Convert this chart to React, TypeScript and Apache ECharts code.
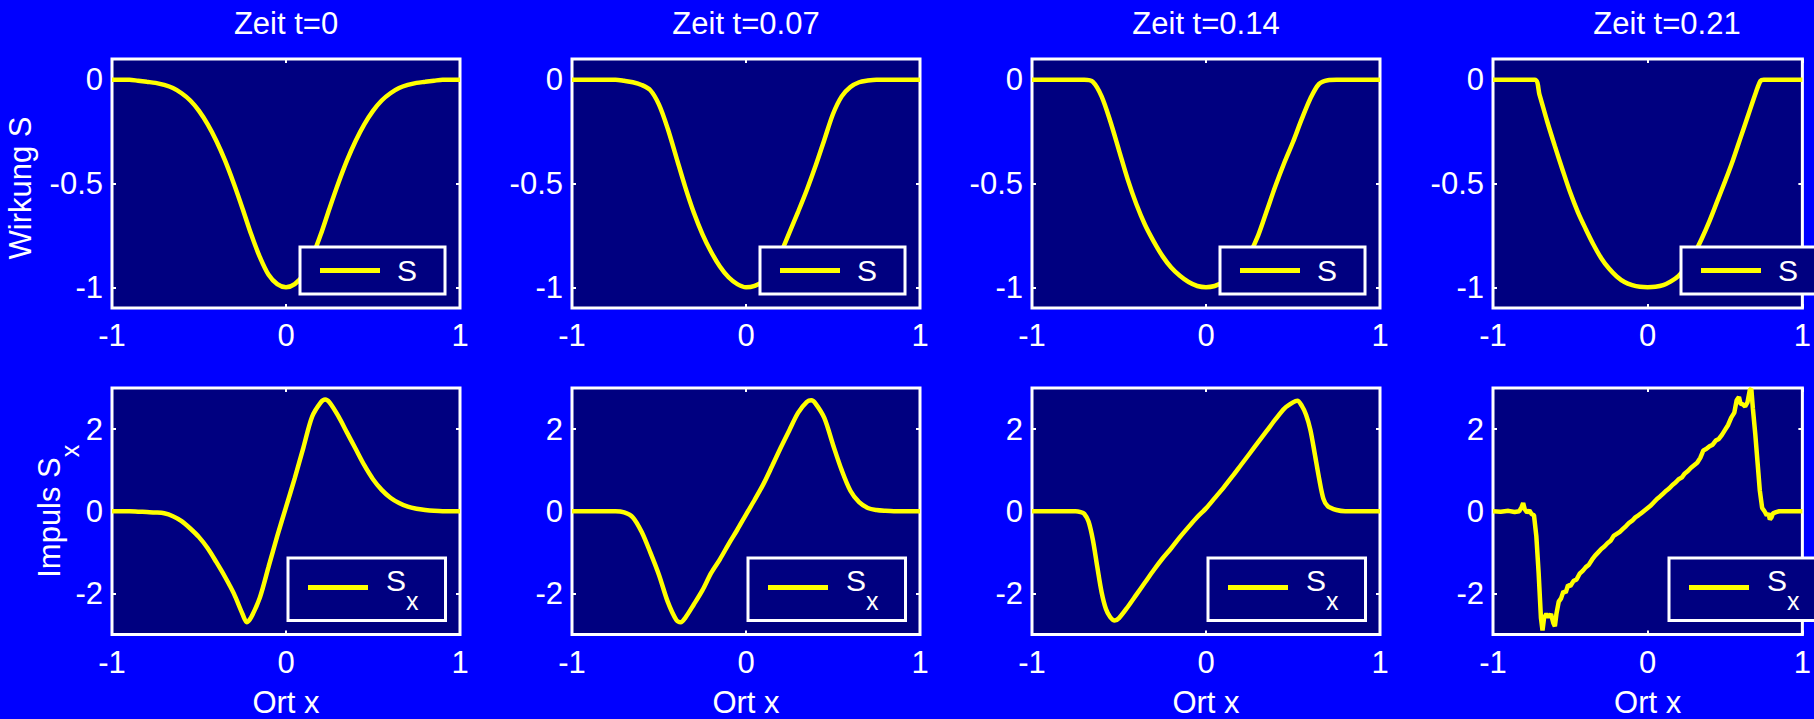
import React, { useEffect, useRef } from 'react';
import * as echarts from 'echarts';

// ---------- data ----------
const titles = ['Zeit t=0', 'Zeit t=0.07', 'Zeit t=0.14', 'Zeit t=0.21'];
const xTicks = [-1, 0, 1];
const sTicks = [-1, -0.5, 0];
const sxTicks = [-2, 0, 2];

// Wirkung S, t = 0
const sT0: number[][] = [
  [-1, 0], [-0.9, 0], [-0.85, -0.005], [-0.8, -0.01], [-0.75, -0.015], [-0.7, -0.025], [-0.65, -0.04],
  [-0.6, -0.065], [-0.55, -0.1], [-0.5, -0.15], [-0.45, -0.215], [-0.4, -0.295], [-0.35, -0.39],
  [-0.3, -0.5], [-0.25, -0.62], [-0.2, -0.745], [-0.15, -0.855], [-0.1, -0.94], [-0.05, -0.985],
  [0, -1], [0.05, -0.985], [0.1, -0.94], [0.15, -0.855], [0.2, -0.745], [0.25, -0.62], [0.3, -0.5],
  [0.35, -0.39], [0.4, -0.295], [0.45, -0.215], [0.5, -0.15], [0.55, -0.1], [0.6, -0.065],
  [0.65, -0.04], [0.7, -0.025], [0.75, -0.015], [0.8, -0.01], [0.85, -0.005], [0.9, 0], [1, 0],
];
// Wirkung S, t = 0.07
const sT1: number[][] = [
  [-1, 0], [-0.75, 0], [-0.7, -0.005], [-0.65, -0.012], [-0.6, -0.025], [-0.55, -0.05], [-0.5, -0.12],
  [-0.45, -0.235], [-0.4, -0.375], [-0.35, -0.515], [-0.3, -0.64], [-0.25, -0.745], [-0.2, -0.83],
  [-0.15, -0.9], [-0.1, -0.952], [-0.05, -0.985], [0, -1], [0.05, -0.993], [0.1, -0.97], [0.15, -0.92],
  [0.2, -0.835], [0.25, -0.735], [0.3, -0.635], [0.35, -0.53], [0.4, -0.415], [0.45, -0.29],
  [0.5, -0.165], [0.55, -0.08], [0.6, -0.035], [0.65, -0.012], [0.7, -0.004], [0.75, 0], [1, 0],
];
// Wirkung S, t = 0.14
const sT2: number[][] = [
  [-1, 0], [-0.7, 0], [-0.65, -0.01], [-0.6, -0.08], [-0.55, -0.2], [-0.5, -0.34], [-0.45, -0.48],
  [-0.4, -0.6], [-0.35, -0.7], [-0.3, -0.78], [-0.25, -0.85], [-0.2, -0.905], [-0.15, -0.945],
  [-0.1, -0.975], [-0.05, -0.994], [0, -1], [0.05, -0.994], [0.1, -0.975], [0.15, -0.945], [0.2, -0.9],
  [0.25, -0.84], [0.3, -0.75], [0.35, -0.63], [0.4, -0.51], [0.45, -0.4], [0.5, -0.3], [0.55, -0.19],
  [0.6, -0.09], [0.65, -0.02], [0.7, -0.002], [0.75, 0], [1, 0],
];
// Wirkung S, t = 0.21
const sT3: number[][] = [
  [-1, 0], [-0.73, 0], [-0.7, -0.07], [-0.65, -0.2], [-0.6, -0.32], [-0.55, -0.435], [-0.5, -0.545],
  [-0.45, -0.64], [-0.4, -0.72], [-0.35, -0.795], [-0.3, -0.86], [-0.25, -0.91], [-0.2, -0.948],
  [-0.15, -0.975], [-0.1, -0.99], [-0.05, -0.998], [0, -1], [0.05, -0.998], [0.1, -0.99], [0.15, -0.972],
  [0.2, -0.945], [0.25, -0.9], [0.3, -0.84], [0.35, -0.765], [0.4, -0.68], [0.45, -0.585], [0.5, -0.49],
  [0.55, -0.39], [0.6, -0.28], [0.65, -0.17], [0.7, -0.06], [0.73, -0.005], [0.75, 0], [1, 0],
];

// Impuls Sx, t = 0
const sxT0: number[][] = [
  [-1, 0], [-0.9, 0], [-0.85, -0.01], [-0.8, -0.02], [-0.75, -0.03], [-0.7, -0.05], [-0.65, -0.12],
  [-0.6, -0.24], [-0.55, -0.42], [-0.5, -0.63], [-0.45, -0.9], [-0.4, -1.24], [-0.35, -1.6], [-0.3, -2.0],
  [-0.25, -2.5], [-0.225, -2.7], [-0.2, -2.58], [-0.15, -2.1], [-0.1, -1.35], [-0.05, -0.6], [0, 0.1],
  [0.05, 0.8], [0.1, 1.55], [0.15, 2.3], [0.2, 2.65], [0.225, 2.72], [0.25, 2.65], [0.3, 2.32],
  [0.35, 1.92], [0.4, 1.52], [0.45, 1.12], [0.5, 0.78], [0.55, 0.52], [0.6, 0.33], [0.65, 0.2],
  [0.7, 0.11], [0.75, 0.06], [0.8, 0.03], [0.85, 0.01], [0.9, 0], [1, 0],
];
// Impuls Sx, t = 0.07
const sxT1: number[][] = [
  [-1, 0], [-0.75, 0], [-0.7, -0.03], [-0.65, -0.15], [-0.6, -0.5], [-0.55, -1.0], [-0.5, -1.55],
  [-0.45, -2.2], [-0.4, -2.65], [-0.375, -2.7], [-0.35, -2.6], [-0.3, -2.27], [-0.25, -1.92], [-0.2, -1.5],
  [-0.15, -1.17], [-0.1, -0.8], [-0.05, -0.45], [0, -0.08], [0.05, 0.28], [0.1, 0.66], [0.15, 1.1],
  [0.2, 1.55], [0.25, 1.98], [0.3, 2.4], [0.35, 2.66], [0.375, 2.7], [0.4, 2.62], [0.45, 2.27],
  [0.5, 1.62], [0.55, 1.0], [0.6, 0.5], [0.65, 0.22], [0.7, 0.08], [0.75, 0.03], [0.8, 0.01], [0.85, 0], [1, 0],
];
// Impuls Sx, t = 0.14
const sxT2: number[][] = [
  [-1, 0], [-0.75, 0], [-0.72, -0.02], [-0.7, -0.06], [-0.675, -0.25], [-0.65, -0.7], [-0.625, -1.35],
  [-0.6, -1.97], [-0.575, -2.38], [-0.55, -2.58], [-0.525, -2.66], [-0.5, -2.6], [-0.45, -2.33],
  [-0.4, -2.03], [-0.35, -1.73], [-0.3, -1.43], [-0.25, -1.15], [-0.2, -0.9], [-0.15, -0.63],
  [-0.1, -0.38], [-0.05, -0.14], [0, 0.07], [0.05, 0.32], [0.1, 0.57], [0.15, 0.84], [0.2, 1.12],
  [0.25, 1.4], [0.3, 1.68], [0.35, 1.96], [0.4, 2.24], [0.45, 2.5], [0.5, 2.65], [0.525, 2.69],
  [0.55, 2.57], [0.575, 2.35], [0.6, 1.98], [0.625, 1.4], [0.65, 0.8], [0.675, 0.3], [0.7, 0.12],
  [0.75, 0.03], [0.8, 0], [1, 0],
];
// Impuls Sx, t = 0.21 (noisy)
const sxT3: number[][] = [
  [-1, 0], [-0.95, -0.01], [-0.9, 0.01], [-0.86, -0.02], [-0.83, 0.0], [-0.815, 0.1], [-0.805, 0.2],
  [-0.795, 0.05], [-0.78, -0.03], [-0.765, 0.02], [-0.75, -0.07], [-0.735, -0.1], [-0.72, -0.6],
  [-0.705, -1.5], [-0.69, -2.6], [-0.68, -2.9], [-0.67, -2.6], [-0.655, -2.5], [-0.64, -2.58],
  [-0.625, -2.5], [-0.61, -2.72], [-0.6, -2.8], [-0.59, -2.5], [-0.575, -2.2], [-0.56, -2.12],
  [-0.545, -1.95], [-0.53, -1.98], [-0.515, -1.8], [-0.5, -1.82], [-0.48, -1.7], [-0.46, -1.66],
  [-0.44, -1.52], [-0.42, -1.45], [-0.4, -1.36], [-0.38, -1.3], [-0.36, -1.18], [-0.34, -1.08],
  [-0.32, -1.0], [-0.3, -0.92], [-0.28, -0.86], [-0.26, -0.78], [-0.24, -0.72], [-0.22, -0.6],
  [-0.2, -0.55], [-0.18, -0.5], [-0.16, -0.43], [-0.14, -0.36], [-0.12, -0.28], [-0.1, -0.23],
  [-0.08, -0.15], [-0.06, -0.1], [-0.04, -0.04], [-0.02, 0.02], [0, 0.08], [0.02, 0.14], [0.04, 0.22],
  [0.06, 0.3], [0.08, 0.36], [0.1, 0.43], [0.12, 0.5], [0.14, 0.56], [0.16, 0.64], [0.18, 0.7],
  [0.2, 0.78], [0.22, 0.82], [0.24, 0.92], [0.26, 0.98], [0.28, 1.06], [0.3, 1.12], [0.32, 1.18],
  [0.34, 1.3], [0.36, 1.48], [0.38, 1.52], [0.4, 1.58], [0.42, 1.62], [0.44, 1.72], [0.46, 1.76],
  [0.48, 1.86], [0.5, 1.98], [0.52, 2.1], [0.54, 2.28], [0.56, 2.4], [0.575, 2.7], [0.59, 2.78],
  [0.6, 2.62], [0.615, 2.6], [0.63, 2.55], [0.645, 2.65], [0.66, 2.95], [0.67, 2.98], [0.68, 2.5],
  [0.695, 1.9], [0.71, 1.2], [0.725, 0.5], [0.74, 0.08], [0.755, 0.0], [0.77, -0.1], [0.78, -0.05],
  [0.79, -0.2], [0.8, -0.15], [0.81, -0.05], [0.83, -0.02], [0.85, 0.0], [0.9, 0.0], [1, 0],
];

const sSeries = [sT0, sT1, sT2, sT3];
const sxSeries = [sxT0, sxT1, sxT2, sxT3];

// ---------- layout / style ----------
const FONT = '"Liberation Sans", Arial, Helvetica, sans-serif';
const COL_LEFT = [112, 572, 1032, 1493];
const ROW_TOP = [59, 388];
const PW = 348;
const PH = 249;
const WHITE = '#ffffff';
const YELLOW = '#ffff00';
const NAVY = '#000080';
const BLUE = '#0000ff';

export default function App() {
  const ref = useRef<HTMLDivElement>(null);

  useEffect(() => {
    document.body.style.margin = '0';
    const chart = echarts.init(ref.current as HTMLDivElement, null, { renderer: 'svg' });

    const grid: any[] = [];
    const xAxis: any[] = [];
    const yAxis: any[] = [];
    const series: any[] = [];
    const legend: any[] = [];
    const graphic: any[] = [];

    const tick = { inside: true, length: 4, lineStyle: { color: WHITE, width: 2 } };
    const label = { color: WHITE, fontSize: 31, fontFamily: FONT };
    const noLine = { show: false, onZero: false };

    for (let row = 0; row < 2; row++) {
      for (let col = 0; col < 4; col++) {
        const g = row * 4 + col;
        const left = COL_LEFT[col];
        const top = ROW_TOP[row];
        grid.push({
          left, top, width: PW, height: PH, show: true,
          backgroundColor: NAVY, borderColor: WHITE, borderWidth: 3,
        });
        const xMain: any = {
          type: 'value', gridIndex: g, min: -1, max: 1, interval: 1, position: 'bottom',
          axisLine: noLine, splitLine: { show: false },
          axisTick: { ...tick, customValues: xTicks },
          axisLabel: { ...label, margin: 12, customValues: xTicks },
        };
        if (row === 1) {
          xMain.name = 'Ort x';
          xMain.nameLocation = 'middle';
          xMain.nameGap = 68;
          xMain.nameMoveOverlap = false;
          xMain.nameTextStyle = { color: WHITE, fontSize: 31, fontFamily: FONT, verticalAlign: 'middle' };
        }
        xAxis.push(xMain);
        xAxis.push({
          type: 'value', gridIndex: g, min: -1, max: 1, interval: 1, position: 'top',
          axisLine: noLine, splitLine: { show: false }, axisLabel: { show: false },
          axisTick: { ...tick, customValues: xTicks },
        });
        const yt = row === 0 ? sTicks : sxTicks;
        const yMain: any = {
          type: 'value', gridIndex: g, position: 'left',
          min: row === 0 ? -1.1 : -3, max: row === 0 ? 0.1 : 3,
          axisLine: noLine, splitLine: { show: false },
          axisTick: { ...tick, customValues: yt },
          axisLabel: { ...label, margin: 9, customValues: yt },
        };
        if (col === 0 && row === 0) {
          yMain.name = 'Wirkung S';
          yMain.nameLocation = 'middle';
          yMain.nameRotate = 90;
          yMain.nameGap = 92;
          yMain.nameMoveOverlap = false;
          yMain.nameTextStyle = {
            color: WHITE, fontSize: 31, fontFamily: FONT, verticalAlign: 'middle', align: 'center',
            padding: [0, 9, 0, 0],
          };
        }
        if (col === 0 && row === 1) {
          yMain.name = '{a|Impuls S}{b|x}';
          yMain.nameLocation = 'middle';
          yMain.nameRotate = 90;
          yMain.nameGap = 56;
          yMain.nameMoveOverlap = false;
          yMain.nameTextStyle = {
            color: WHITE, fontSize: 31, fontFamily: FONT, verticalAlign: 'middle', align: 'center',
            rich: {
              a: { color: WHITE, fontSize: 31, fontFamily: FONT, padding: [0, 0, 14, 0] },
              b: { color: WHITE, fontSize: 25, fontFamily: FONT, padding: [28, 0, 0, 0] },
            },
          };
        }
        yAxis.push(yMain);
        yAxis.push({
          type: 'value', gridIndex: g, position: 'right',
          min: row === 0 ? -1.1 : -3, max: row === 0 ? 0.1 : 3,
          axisLine: noLine, splitLine: { show: false }, axisLabel: { show: false },
          axisTick: { ...tick, customValues: yt },
        });

        const name = row === 0 ? 'S' : 'Sx';
        series.push({
          type: 'line', name, xAxisIndex: 2 * g, yAxisIndex: 2 * g,
          data: row === 0 ? sSeries[col] : sxSeries[col],
          showSymbol: false, symbol: 'none',
          smooth: row === 1 && col === 3 ? false : 0.3,
          color: YELLOW, itemStyle: { color: YELLOW },
          lineStyle: { color: YELLOW, width: 4.5 }, clip: true, z: 3,
        });

        if (row === 0) {
          legend.push({
            data: ['S'], left: left + 188, top: 247, orient: 'horizontal', selectedMode: false,
            icon: 'rect', itemWidth: 60, itemHeight: 5,
            itemStyle: { color: YELLOW, borderWidth: 0 },
            padding: [8.5, 28, 8.5, 20], backgroundColor: NAVY, borderColor: WHITE, borderWidth: 3,
            formatter: () => '{a|S}',
            textStyle: {
              color: WHITE, fontSize: 30, fontFamily: FONT,
              rich: { a: { color: WHITE, fontSize: 30, fontFamily: FONT, padding: [0, 0, 0, 12] } },
            },
          });
        } else {
          legend.push({
            data: ['Sx'], left: left + 176, top: 558, orient: 'horizontal', selectedMode: false,
            icon: 'rect', itemWidth: 60, itemHeight: 5,
            itemStyle: { color: YELLOW, borderWidth: 0 },
            padding: [7, 27, 7, 20], backgroundColor: NAVY, borderColor: WHITE, borderWidth: 3,
            formatter: () => '{a|S}{b|x}',
            textStyle: {
              color: WHITE, fontSize: 30, fontFamily: FONT,
              rich: {
                a: { color: WHITE, fontSize: 30, fontFamily: FONT, padding: [0, 0, 15, 13] },
                b: { color: WHITE, fontSize: 25, fontFamily: FONT, padding: [27, 0, 0, 0] },
              },
            },
          });
        }
      }
    }

    for (let col = 0; col < 4; col++) {
      graphic.push({
        type: 'text', x: COL_LEFT[col] + PW / 2, y: 23, silent: true,
        style: {
          text: titles[col], fill: WHITE, fontSize: 31, fontFamily: FONT,
          align: 'center', verticalAlign: 'middle',
        },
      });
    }

    chart.setOption({
      animation: false,
      backgroundColor: BLUE,
      grid, xAxis, yAxis, series, legend, graphic,
    });

    return () => chart.dispose();
  }, []);

  return (
    <div
      ref={ref}
      style={{ position: 'fixed', left: 0, top: 0, width: 1814, height: 719 }}
    />
  );
}
